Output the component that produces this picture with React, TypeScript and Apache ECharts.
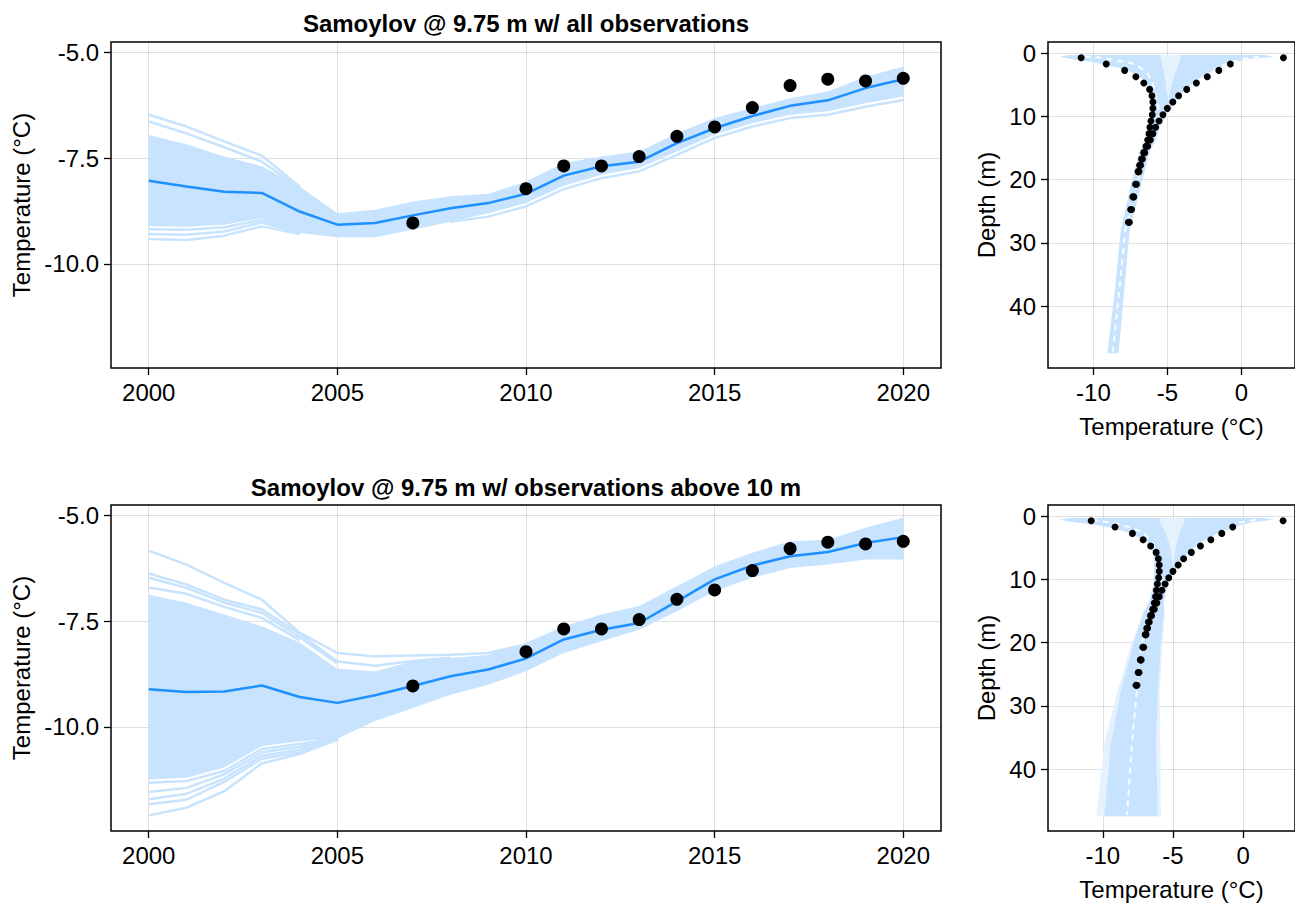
import React, { useEffect, useRef } from "react";
import * as echarts from "echarts";

// ---------- time series data ----------
const years = [2000, 2001, 2002, 2003, 2004, 2005, 2006, 2007, 2008, 2009, 2010, 2011, 2012, 2013, 2014, 2015, 2016, 2017, 2018, 2019, 2020];
const obsYears = [2007, 2010, 2011, 2012, 2013, 2014, 2015, 2016, 2017, 2018, 2019, 2020];
const obsTemp = [-9.03, -8.22, -7.68, -7.68, -7.46, -6.98, -6.76, -6.30, -5.78, -5.63, -5.67, -5.61];

// panel 1: all observations
const meanAll = [-8.03, -8.17, -8.29, -8.32, -8.76, -9.07, -9.03, -8.85, -8.68, -8.56, -8.34, -7.91, -7.69, -7.58, -7.14, -6.79, -6.50, -6.26, -6.13, -5.84, -5.63];
const upperAll = [-6.95, -7.17, -7.46, -7.69, -8.17, -8.80, -8.72, -8.52, -8.40, -8.34, -8.05, -7.61, -7.46, -7.34, -6.91, -6.55, -6.31, -6.08, -5.92, -5.57, -5.33];
const lowerAll = [-9.11, -9.12, -9.07, -8.92, -9.27, -9.37, -9.37, -9.19, -9.00, -8.80, -8.56, -8.15, -7.89, -7.73, -7.34, -6.94, -6.67, -6.47, -6.39, -6.20, -6.04];
const memberAllUp1 = [-6.47, -6.75, -7.10, -7.44, -8.17];
const memberAllUp2 = [-6.63, -6.91, -7.24, -7.58, -8.20];
const memberAllLo1 = [-9.18, -9.19, -9.13, -8.96, -9.25];
const memberAllLo2 = [-9.29, -9.31, -9.23, -9.02, -9.27];
const memberAllLo3 = [-9.41, -9.43, -9.33, -9.11, -9.29];
const memberAllTail = [null, null, null, null, null, null, null, null, -9.0, -8.88, -8.64, -8.23, -7.97, -7.81, -7.42, -7.02, -6.75, -6.55, -6.47, -6.28, -6.12];

// panel 2: observations above 10 m
const meanAbove = [-9.11, -9.17, -9.16, -9.02, -9.29, -9.43, -9.25, -9.03, -8.80, -8.64, -8.38, -7.93, -7.70, -7.54, -7.03, -6.51, -6.18, -5.96, -5.86, -5.65, -5.51];
const upperAbove = [-6.87, -7.06, -7.34, -7.62, -8.00, -8.62, -8.68, -8.45, -8.37, -8.30, -8.01, -7.62, -7.34, -7.14, -6.67, -6.20, -5.88, -5.61, -5.57, -5.29, -5.05];
const lowerAbove = [-11.24, -11.20, -10.96, -10.45, -10.34, -10.28, -9.86, -9.55, -9.24, -9.00, -8.68, -8.25, -7.97, -7.70, -7.26, -6.79, -6.47, -6.24, -6.16, -6.04, -6.04];
const memberAboveUp1 = [-5.83, -6.16, -6.59, -6.99, -7.77, -8.25, -8.33, -8.31, -8.29, -8.25, -8.05];
const memberAboveUp2 = [-6.37, -6.63, -6.99, -7.22, -7.80, -8.45, -8.55, -8.44, -8.36];
const memberAboveUp3 = [-6.47, -6.71, -7.06, -7.30, -7.88, -8.50];
const memberAboveUp4 = [-6.70, -6.85, -7.16, -7.42, -7.95];
const memberAboveLo1 = [-11.32, -11.28, -11.04, -10.52, -10.40, -10.28];
const memberAboveLo2 = [-11.54, -11.44, -11.12, -10.60, -10.47, -10.28];
const memberAboveLo3 = [-11.71, -11.58, -11.22, -10.68, -10.54, -10.28];
const memberAboveLo4 = [-11.83, -11.72, -11.30, -10.75, -10.60, -10.28];
const memberAboveLo5 = [-12.09, -11.91, -11.52, -10.86, -10.64, -10.30];

// ---------- profile data ----------
const obsDepth = [0.75, 1.75, 2.75, 3.75, 4.75, 5.75, 6.75, 7.75, 8.75, 9.75, 10.75, 11.75, 12.75, 13.75, 14.75, 15.75, 16.75, 17.75, 18.75, 20.75, 22.75, 24.75, 26.75];
const obsMinT = [-10.83, -9.13, -7.89, -7.13, -6.59, -6.20, -6.04, -5.98, -5.98, -6.02, -6.11, -6.18, -6.24, -6.33, -6.45, -6.60, -6.75, -6.87, -6.98, -7.15, -7.33, -7.48, -7.63];
const obsMaxT = [2.85, -0.74, -1.52, -2.30, -3.04, -3.69, -4.24, -4.63, -5.00, -5.30, -5.56, -5.79, -5.98, -6.15, -6.33, -6.53, -6.69, -6.81, -6.92, -7.09, -7.27, -7.42, -7.57];

// profile envelope, all observations
const envDepthAll = [0.3, 0.6, 0.95, 1.37, 2.0, 2.7, 4.0, 5.6, 7.2, 9.3, 11.4, 13.5, 15.6, 20.7, 28, 36.4, 47.45];
const envLeftAll = [-11.6, -12.3, -11.5, -10.2, -8.9, -7.75, -6.7, -6.25, -6.05, -6.0, -6.1, -6.35, -6.9, -7.45, -8.15, -8.5, -9.05];
const envRightAll = [1.5, 2.2, 0.6, -0.4, -1.15, -1.76, -2.85, -3.7, -4.35, -4.9, -5.45, -5.75, -6.2, -6.75, -7.55, -7.87, -8.3];
const notchDepthAll = [1.0, 2.7, 4.8, 7.5];
const notchLeftAll = [-5.45, -5.25, -5.1, -4.95];
const notchRightAll = [-4.1, -4.4, -4.7, -4.95];
const dashMinDepthAll = [0.55, 0.75, 1.3, 1.6, 2.3, 3.2, 4.4, 6.0, 8.0, 11.0];
const dashMinAll = [-10.6, -9.4, -8.1, -7.4, -6.85, -6.35, -6.05, -5.85, -5.65, -5.5];
const dashMaxDepthAll = [0.6, 1.0, 1.6, 2.4, 4.0, 5.6, 7.2, 9.3, 11.0];
const dashMaxAll = [1.2, 0.0, -0.9, -1.65, -2.63, -3.5, -4.15, -4.8, -5.4];
const dashDeepDepthAll = [11.0, 13.5, 15.6, 20.7, 28, 36.4, 47.2];
const dashDeepAll = [-5.45, -6.0, -6.5, -7.05, -7.85, -8.2, -8.68];

// profile envelope, observations above 10 m
const envDepthAbove = [0.3, 0.6, 0.95, 1.37, 2.0, 2.7, 4.0, 5.6, 7.2, 9.3, 11.4, 13.5, 14.9, 20.1, 28, 36, 47.45];
const envLeftAbove = [-12.3, -13.1, -12.2, -10.5, -9.2, -8.07, -6.92, -6.46, -6.34, -6.34, -6.46, -6.69, -7.01, -7.82, -8.74, -9.43, -9.89];
const envRightAbove = [1.5, 2.16, 0.8, -0.1, -0.9, -1.75, -2.9, -3.82, -4.51, -5.08, -5.43, -5.66, -5.63, -5.86, -6.09, -6.21, -6.09];
const faintDepthAbove = [14.9, 20.1, 28, 36, 47.45];
const faintLeftAbove = [-7.1, -7.95, -9.0, -9.9, -10.46];
const faintRightAbove = [-5.55, -5.75, -5.95, -5.9, -5.86];
const notchDepthAbove = [1.0, 2.7, 4.8, 8.2];
const notchLeftAbove = [-5.9, -5.5, -5.2, -5.0];
const notchRightAbove = [-4.2, -4.55, -4.8, -5.0];
const dashMinDepthAbove = [0.6, 1.1, 1.9, 2.7, 4.0, 5.6, 7.5, 9.5, 11.0];
const dashMinAbove = [-10.8, -9.3, -7.85, -7.1, -6.5, -6.2, -6.0, -5.85, -5.75];
const dashMaxDepthAbove = [0.6, 1.1, 2.7, 4.0, 5.6, 7.2, 9.3, 11.0];
const dashMaxAbove = [0.9, -0.37, -1.63, -2.55, -3.4, -4.06, -4.74, -5.5];
const dashDeepDepthAbove = [11.0, 14.9, 20.1, 28, 36, 47.3];
const dashDeepAbove = [-5.6, -6.45, -7.24, -7.59, -7.93, -8.28];

// ---------- tick values ----------
const yearTicks = [2000, 2005, 2010, 2015, 2020];
const tempTicks = [-10, -7.5, -5];
const profTempTicks = [-10, -5, 0];
const depthTicks = [0, 10, 20, 30, 40];

const FONT = "Liberation Sans";
const BAND = "#c7e3fd";
const FAINT = "#e6f1fe";
const MEAN = "#1e90ff";
const FS = 24;

function pairs(xs: number[], vs: (number | null)[]) {
  const out: number[][] = [];
  vs.forEach((v, i) => {
    if (v !== null && v !== undefined) out.push([xs[i], v as number]);
  });
  return out;
}
function profPairs(depths: number[], temps: number[]) {
  return depths.map((d, i) => [temps[i], d]);
}

function polygonSeries(points: number[][], idx: number, color: string, z: number) {
  return {
    type: "custom",
    xAxisIndex: idx,
    yAxisIndex: idx,
    data: [points[0]],
    clip: true,
    silent: true,
    z,
    renderItem: (_p: any, api: any) => ({
      type: "polygon",
      shape: { points: points.map((p) => api.coord(p)) },
      style: { fill: color, stroke: null },
    }),
  };
}

function bandPoly(upper: number[], lower: number[]) {
  const up = upper.map((v, i) => [years[i], v]);
  const lo = lower.map((v, i) => [years[i], v]).reverse();
  return up.concat(lo);
}

function profilePoly(depth: number[], left: number[], right: number[], nd: number[], nl: number[], nr: number[]) {
  const pts: number[][] = [];
  depth.forEach((d, i) => pts.push([left[i], d]));
  for (let i = depth.length - 1; i >= 0; i--) pts.push([right[i], depth[i]]);
  if (nd.length) {
    pts.push([nr[0], depth[0]]);
    nd.forEach((d, i) => pts.push([nr[i], d]));
    for (let i = nd.length - 1; i >= 0; i--) pts.push([nl[i], nd[i]]);
    pts.push([nl[0], depth[0]]);
  }
  return pts;
}
function notchPoly(top: number, nd: number[], nl: number[], nr: number[]) {
  const pts: number[][] = [[nr[0], top]];
  nd.forEach((d, i) => pts.push([nr[i], d]));
  for (let i = nd.length - 1; i >= 0; i--) pts.push([nl[i], nd[i]]);
  pts.push([nl[0], top]);
  return pts;
}

function memberLine(vals: (number | null)[], idx: number) {
  return {
    type: "line",
    xAxisIndex: idx,
    yAxisIndex: idx,
    data: pairs(years, vals),
    showSymbol: false,
    silent: true,
    z: 2,
    lineStyle: { color: BAND, width: 2.5 },
  };
}
function dashLine(depths: number[], temps: number[], idx: number) {
  return {
    type: "line",
    xAxisIndex: idx,
    yAxisIndex: idx,
    data: profPairs(depths, temps),
    showSymbol: false,
    silent: true,
    z: 3,
    lineStyle: { color: "rgba(255,255,255,0.9)", width: 2, type: [6, 5] },
  };
}
function obsScatter(data: number[][], idx: number, size: number) {
  return { type: "scatter", xAxisIndex: idx, yAxisIndex: idx, data, symbolSize: size, z: 5, itemStyle: { color: "#000", opacity: 1 } };
}

const tickStyle = { color: "#000", width: 1.3 };
const splitStyle = { color: "rgba(0,0,0,0.12)", width: 1 };
const labelBase = { color: "#000", fontSize: FS, fontFamily: FONT, margin: 12 };
const nameStyle = { color: "#000", fontSize: FS, fontFamily: FONT };

function xAxisTime(gridIndex: number) {
  return {
    type: "value",
    gridIndex,
    min: 1999,
    max: 2021,
    axisLine: { show: false, onZero: false },
    axisTick: { show: true, length: 7, lineStyle: tickStyle, customValues: yearTicks },
    axisLabel: { ...labelBase, customValues: yearTicks, formatter: (v: number) => String(v) },
    splitLine: { show: true, lineStyle: splitStyle },
  };
}
function yAxisTime(gridIndex: number) {
  return {
    type: "value",
    gridIndex,
    min: -12.46,
    max: -4.75,
    name: "Temperature (°C)",
    nameLocation: "middle",
    nameGap: 76,
    nameTextStyle: nameStyle,
    axisLine: { show: false, onZero: false },
    axisTick: { show: true, length: 7, lineStyle: tickStyle, customValues: tempTicks },
    axisLabel: { ...labelBase, customValues: tempTicks, formatter: (v: number) => v.toFixed(1) },
    splitLine: { show: true, lineStyle: splitStyle },
  };
}
function xAxisProf(gridIndex: number, min: number, max: number) {
  return {
    type: "value",
    gridIndex,
    min,
    max,
    name: "Temperature (°C)",
    nameLocation: "middle",
    nameGap: 46,
    nameTextStyle: nameStyle,
    axisLine: { show: false, onZero: false },
    axisTick: { show: true, length: 7, lineStyle: tickStyle, customValues: profTempTicks },
    axisLabel: { ...labelBase, customValues: profTempTicks, formatter: (v: number) => String(v) },
    splitLine: { show: true, lineStyle: splitStyle },
  };
}
function yAxisProf(gridIndex: number) {
  return {
    type: "value",
    gridIndex,
    inverse: true,
    min: -1.74,
    max: 49.8,
    name: "Depth (m)",
    nameLocation: "middle",
    nameGap: 50,
    nameTextStyle: nameStyle,
    axisLine: { show: false, onZero: false },
    axisTick: { show: true, length: 7, lineStyle: tickStyle, customValues: depthTicks },
    axisLabel: { ...labelBase, customValues: depthTicks, formatter: (v: number) => String(v) },
    splitLine: { show: true, lineStyle: splitStyle },
  };
}

const gridBase = { show: true, borderColor: "#000", borderWidth: 1.5, backgroundColor: "transparent", containLabel: false };

function buildOption() {
  const series: any[] = [];
  // panel 0: all obs time series
  series.push(polygonSeries(bandPoly(upperAll, lowerAll), 0, BAND, 1));
  [memberAllUp1, memberAllUp2, memberAllLo1, memberAllLo2, memberAllLo3, memberAllTail].forEach((m) => series.push(memberLine(m, 0)));
  series.push({ type: "line", xAxisIndex: 0, yAxisIndex: 0, data: pairs(years, meanAll), showSymbol: false, z: 4, lineStyle: { color: MEAN, width: 2.5 } });
  series.push(obsScatter(pairs(obsYears, obsTemp), 0, 13));

  // panel 1: above 10 m time series
  series.push(polygonSeries(bandPoly(upperAbove, lowerAbove), 1, BAND, 1));
  [memberAboveUp1, memberAboveUp2, memberAboveUp3, memberAboveUp4, memberAboveLo1, memberAboveLo2, memberAboveLo3, memberAboveLo4, memberAboveLo5].forEach((m) => series.push(memberLine(m, 1)));
  series.push({ type: "line", xAxisIndex: 1, yAxisIndex: 1, data: pairs(years, meanAbove), showSymbol: false, z: 4, lineStyle: { color: MEAN, width: 2.5 } });
  series.push(obsScatter(pairs(obsYears, obsTemp), 1, 13));

  // panel 2: profile all obs
  series.push(polygonSeries(notchPoly(envDepthAll[0], notchDepthAll, notchLeftAll, notchRightAll), 2, FAINT, 1));
  series.push(polygonSeries(profilePoly(envDepthAll, envLeftAll, envRightAll, notchDepthAll, notchLeftAll, notchRightAll), 2, BAND, 1));
  series.push(dashLine(dashMinDepthAll, dashMinAll, 2));
  series.push(dashLine(dashMaxDepthAll, dashMaxAll, 2));
  series.push(dashLine(dashDeepDepthAll, dashDeepAll, 2));
  series.push(obsScatter(profPairs(obsDepth, obsMinT), 2, 7));
  series.push(obsScatter(profPairs(obsDepth, obsMaxT), 2, 7));

  // panel 3: profile above 10 m
  series.push(polygonSeries(profilePoly(faintDepthAbove, faintLeftAbove, faintRightAbove, [], [], []), 3, FAINT, 1));
  series.push(polygonSeries(notchPoly(envDepthAbove[0], notchDepthAbove, notchLeftAbove, notchRightAbove), 3, FAINT, 1));
  series.push(polygonSeries(profilePoly(envDepthAbove, envLeftAbove, envRightAbove, notchDepthAbove, notchLeftAbove, notchRightAbove), 3, BAND, 1));
  series.push(dashLine(dashMinDepthAbove, dashMinAbove, 3));
  series.push(dashLine(dashMaxDepthAbove, dashMaxAbove, 3));
  series.push(dashLine(dashDeepDepthAbove, dashDeepAbove, 3));
  series.push(obsScatter(profPairs(obsDepth, obsMinT), 3, 7));
  series.push(obsScatter(profPairs(obsDepth, obsMaxT), 3, 7));

  return {
    animation: false,
    backgroundColor: "#fff",
    textStyle: { fontFamily: FONT },
    grid: [
      { ...gridBase, left: 111, top: 42, width: 830, height: 326 },
      { ...gridBase, left: 111, top: 505, width: 830, height: 326 },
      { ...gridBase, left: 1048, top: 42, width: 256, height: 326 },
      { ...gridBase, left: 1048, top: 505, width: 256, height: 326 },
    ],
    xAxis: [xAxisTime(0), xAxisTime(1), xAxisProf(2, -13.07, 3.63), xAxisProf(3, -13.91, 3.7)],
    yAxis: [yAxisTime(0), yAxisTime(1), yAxisProf(2), yAxisProf(3)],
    graphic: [
      {
        type: "text",
        x: 526,
        y: 23,
        style: { text: "Samoylov @ 9.75 m w/ all observations", textAlign: "center", textVerticalAlign: "middle", fontSize: FS, fontWeight: "bold", fontFamily: FONT, fill: "#000" },
      },
      {
        type: "text",
        x: 526,
        y: 487,
        style: { text: "Samoylov @ 9.75 m w/ observations above 10 m", textAlign: "center", textVerticalAlign: "middle", fontSize: FS, fontWeight: "bold", fontFamily: FONT, fill: "#000" },
      },
    ],
    series,
  };
}

export default function App() {
  const ref = useRef<HTMLDivElement>(null);
  useEffect(() => {
    if (!ref.current) return;
    const chart = echarts.init(ref.current, undefined, { renderer: "svg" });
    chart.setOption(buildOption() as any);
    return () => chart.dispose();
  }, []);
  return <div ref={ref} style={{ position: "absolute", left: 0, top: 0, width: 1295, height: 904, overflow: "hidden", background: "#fff" }} />;
}
